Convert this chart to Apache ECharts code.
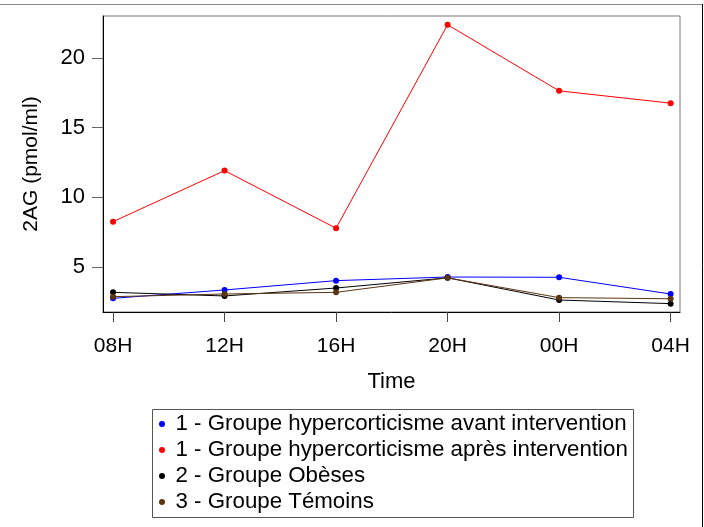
<!DOCTYPE html>
<html>
<head>
<meta charset="utf-8">
<script src="https://cdn.jsdelivr.net/npm/echarts@6/dist/echarts.min.js"></script>
<style>
  html, body { margin: 0; padding: 0; background: #fff; }
  #chart { width: 704px; height: 527px; }
</style>
</head>
<body>
<div id="chart"></div>
<script>
// Sampling times (one every 4 hours)
const times = ['08H', '12H', '16H', '20H', '00H', '04H'];

// 2AG concentrations (pmol/ml) per group
const avantIntervention = [2.75, 3.35, 4.02, 4.28, 4.26, 3.06];
const apresIntervention = [8.25, 11.91, 7.78, 22.37, 17.63, 16.75];
const obeses = [3.18, 2.92, 3.49, 4.22, 2.63, 2.37];
const temoins = [2.87, 3.06, 3.18, 4.22, 2.80, 2.72];

const yTicks = [5, 10, 15, 20];

const seriesNames = [
  '1 - Groupe hypercorticisme avant intervention',
  '1 - Groupe hypercorticisme après intervention',
  '2 - Groupe Obèses',
  '3 - Groupe Témoins'
];
const seriesColors = ['#0000ff', '#ff0000', '#000000', '#5a3512'];
const seriesData = [avantIntervention, apresIntervention, obeses, temoins];

const font = '"Liberation Sans", Arial, sans-serif';

const chart = echarts.init(document.getElementById('chart'), null, { renderer: 'canvas' });

chart.setOption({
  backgroundColor: '#ffffff',
  animation: false,
  textStyle: { fontFamily: font },
  grid: {
    left: 103, top: 16, right: 24, bottom: 215,
    show: true, borderColor: '#777', borderWidth: 1, backgroundColor: 'transparent'
  },
  xAxis: {
    type: 'value',
    min: -0.09,
    max: 5.084,
    name: 'Time',
    nameLocation: 'middle',
    nameGap: 59,
    nameTextStyle: { fontSize: 22, color: '#000', fontFamily: font },
    splitLine: { show: false },
    axisLine: { show: true, onZero: false, lineStyle: { color: '#000', width: 1 } },
    axisTick: {
      show: true, length: 10, customValues: times.map((_, i) => i),
      lineStyle: { color: '#444', width: 1 }
    },
    axisLabel: {
      customValues: times.map((_, i) => i),
      formatter: v => times[Math.round(v)],
      fontSize: 21, color: '#000', margin: 24, fontFamily: font
    }
  },
  yAxis: {
    type: 'value',
    min: 1.77,
    max: 23.0,
    name: '2AG (pmol/ml)',
    nameLocation: 'middle',
    nameRotate: 90,
    nameGap: 61,
    nameTextStyle: { fontSize: 21, color: '#000', fontFamily: font },
    splitLine: { show: false },
    axisLine: { show: true, onZero: false, lineStyle: { color: '#000', width: 1 } },
    axisTick: {
      show: true, length: 11, customValues: yTicks,
      lineStyle: { color: '#666', width: 1 }
    },
    axisLabel: {
      customValues: yTicks,
      fontSize: 22, color: '#000', margin: 18, fontFamily: font
    }
  },
  legend: {
    orient: 'vertical',
    left: 159,
    top: 413,
    padding: 0,
    itemGap: 4,
    itemWidth: 17,
    itemHeight: 6,
    icon: 'circle',
    textStyle: { fontSize: 22.3, color: '#000', lineHeight: 22, fontFamily: font },
    data: seriesNames
  },
  graphic: [
    { type: 'line', shape: { x1: 0, y1: 4.5, x2: 702, y2: 4.5 }, style: { stroke: '#888', lineWidth: 1 } },
    { type: 'line', shape: { x1: 702.5, y1: 4, x2: 702.5, y2: 527 }, style: { stroke: '#000', lineWidth: 1 } },
    // legend frame
    { type: 'rect', z: -1, shape: { x: 152.5, y: 409.5, width: 481, height: 108 },
      style: { fill: '#fff', stroke: '#555', lineWidth: 1 } }
  ],
  series: seriesNames.map((name, k) => ({
    name: name,
    type: 'line',
    data: seriesData[k].map((v, i) => [i, v]),
    symbol: 'circle',
    symbolSize: 6,
    lineStyle: { color: seriesColors[k], width: 1 },
    itemStyle: { color: seriesColors[k] },
    emphasis: { disabled: true }
  }))
});
</script>
</body>
</html>
